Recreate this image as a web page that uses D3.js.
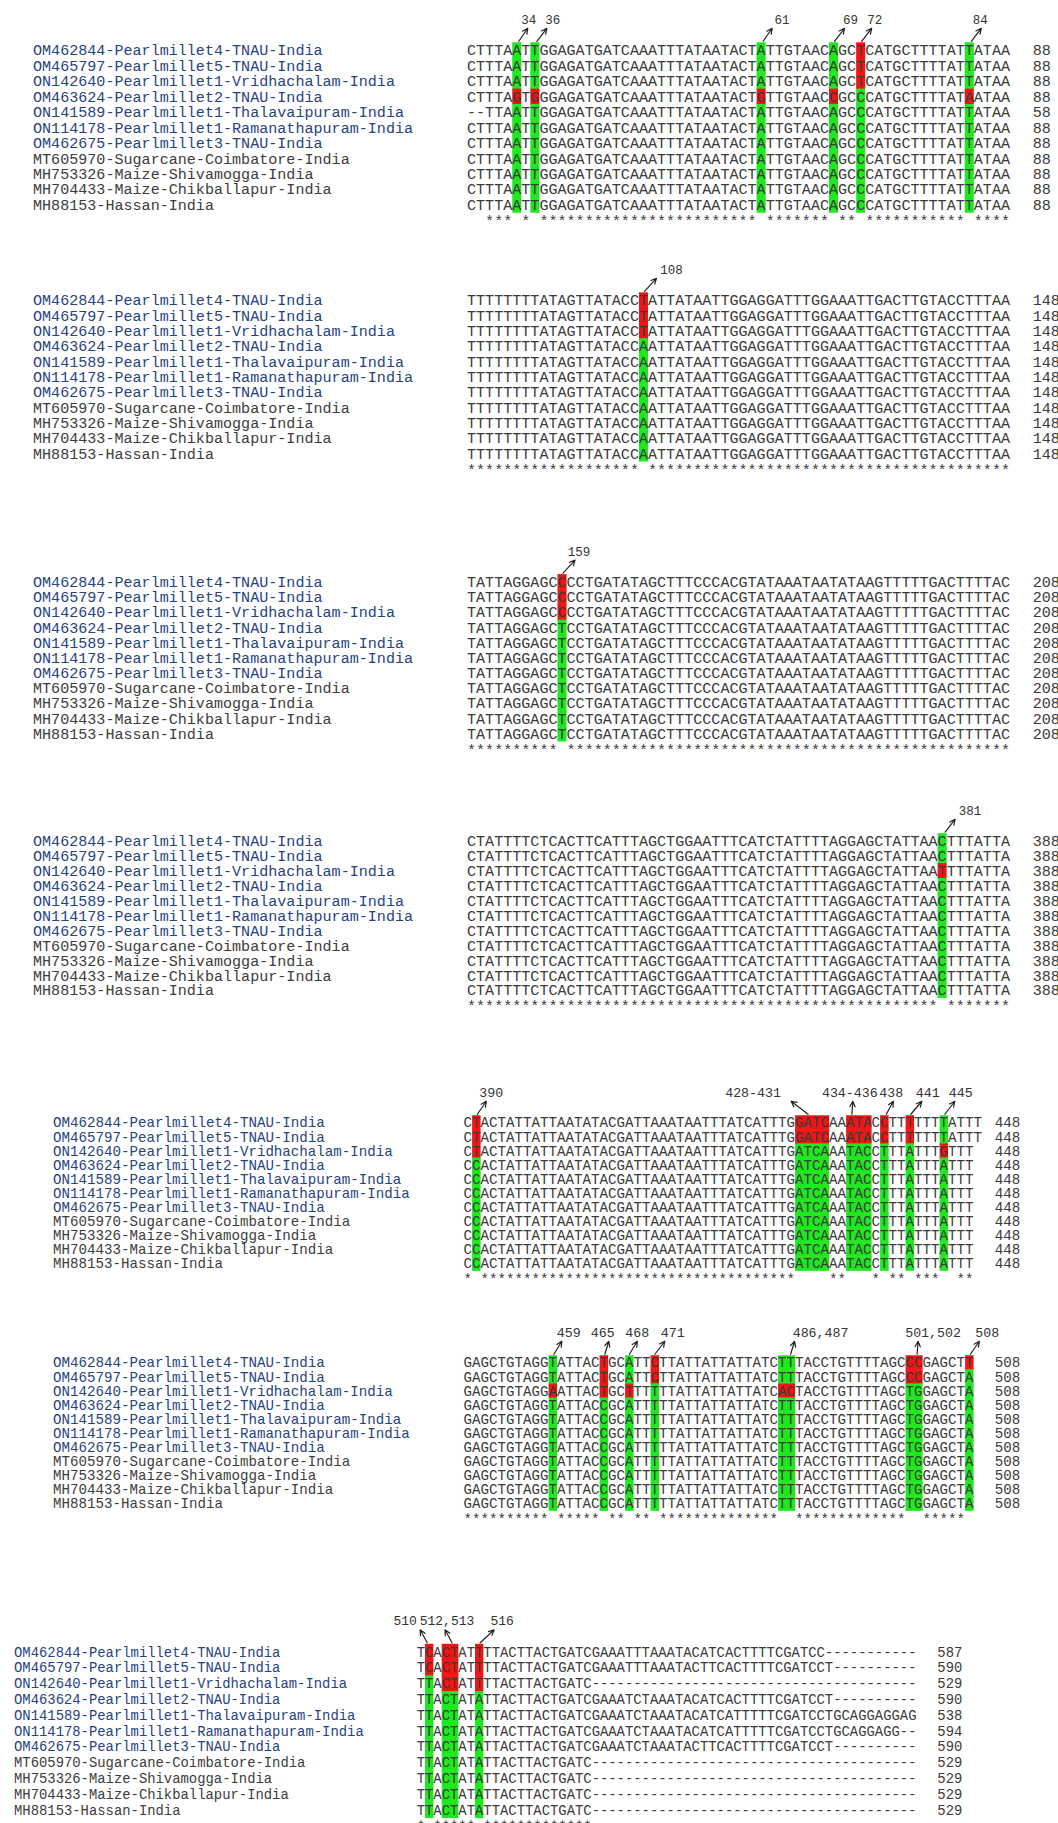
<!DOCTYPE html>
<html><head><meta charset="utf-8">
<script src="https://cdn.jsdelivr.net/npm/d3@7"></script>
<style>html,body{margin:0;padding:0;background:#fff}</style>
</head><body><svg id="c" width="1058" height="1823"></svg>
<script>
// ---------------- DATA ----------------
const names = [
  "OM462844-Pearlmillet4-TNAU-India",
  "OM465797-Pearlmillet5-TNAU-India",
  "ON142640-Pearlmillet1-Vridhachalam-India",
  "OM463624-Pearlmillet2-TNAU-India",
  "ON141589-Pearlmillet1-Thalavaipuram-India",
  "ON114178-Pearlmillet1-Ramanathapuram-India",
  "OM462675-Pearlmillet3-TNAU-India",
  "MT605970-Sugarcane-Coimbatore-India",
  "MH753326-Maize-Shivamogga-India",
  "MH704433-Maize-Chikballapur-India",
  "MH88153-Hassan-India"
];
const hostGroup = ["pearl","pearl","pearl","pearl","pearl","pearl","pearl","other","other","other","other"];

const blockStarts = [29, 89, 149, 329, 389, 449, 509];

const seqBlock1 = [
  "CTTTAATTGGAGATGATCAAATTTATAATACTATTGTAACAGCTCATGCTTTTATTATAA",
  "CTTTAATTGGAGATGATCAAATTTATAATACTATTGTAACAGCTCATGCTTTTATTATAA",
  "CTTTAATTGGAGATGATCAAATTTATAATACTATTGTAACAGCTCATGCTTTTATTATAA",
  "CTTTAGTGGGAGATGATCAAATTTATAATACTGTTGTAACCGCCCATGCTTTTATAATAA",
  "--TTAATTGGAGATGATCAAATTTATAATACTATTGTAACAGCCCATGCTTTTATTATAA",
  "CTTTAATTGGAGATGATCAAATTTATAATACTATTGTAACAGCCCATGCTTTTATTATAA",
  "CTTTAATTGGAGATGATCAAATTTATAATACTATTGTAACAGCCCATGCTTTTATTATAA",
  "CTTTAATTGGAGATGATCAAATTTATAATACTATTGTAACAGCCCATGCTTTTATTATAA",
  "CTTTAATTGGAGATGATCAAATTTATAATACTATTGTAACAGCCCATGCTTTTATTATAA",
  "CTTTAATTGGAGATGATCAAATTTATAATACTATTGTAACAGCCCATGCTTTTATTATAA",
  "CTTTAATTGGAGATGATCAAATTTATAATACTATTGTAACAGCCCATGCTTTTATTATAA"
];
const seqBlock2 = [
  "TTTTTTTTATAGTTATACCTATTATAATTGGAGGATTTGGAAATTGACTTGTACCTTTAA",
  "TTTTTTTTATAGTTATACCTATTATAATTGGAGGATTTGGAAATTGACTTGTACCTTTAA",
  "TTTTTTTTATAGTTATACCTATTATAATTGGAGGATTTGGAAATTGACTTGTACCTTTAA",
  "TTTTTTTTATAGTTATACCAATTATAATTGGAGGATTTGGAAATTGACTTGTACCTTTAA",
  "TTTTTTTTATAGTTATACCAATTATAATTGGAGGATTTGGAAATTGACTTGTACCTTTAA",
  "TTTTTTTTATAGTTATACCAATTATAATTGGAGGATTTGGAAATTGACTTGTACCTTTAA",
  "TTTTTTTTATAGTTATACCAATTATAATTGGAGGATTTGGAAATTGACTTGTACCTTTAA",
  "TTTTTTTTATAGTTATACCAATTATAATTGGAGGATTTGGAAATTGACTTGTACCTTTAA",
  "TTTTTTTTATAGTTATACCAATTATAATTGGAGGATTTGGAAATTGACTTGTACCTTTAA",
  "TTTTTTTTATAGTTATACCAATTATAATTGGAGGATTTGGAAATTGACTTGTACCTTTAA",
  "TTTTTTTTATAGTTATACCAATTATAATTGGAGGATTTGGAAATTGACTTGTACCTTTAA"
];
const seqBlock3 = [
  "TATTAGGAGCCCCTGATATAGCTTTCCCACGTATAAATAATATAAGTTTTTGACTTTTAC",
  "TATTAGGAGCCCCTGATATAGCTTTCCCACGTATAAATAATATAAGTTTTTGACTTTTAC",
  "TATTAGGAGCCCCTGATATAGCTTTCCCACGTATAAATAATATAAGTTTTTGACTTTTAC",
  "TATTAGGAGCTCCTGATATAGCTTTCCCACGTATAAATAATATAAGTTTTTGACTTTTAC",
  "TATTAGGAGCTCCTGATATAGCTTTCCCACGTATAAATAATATAAGTTTTTGACTTTTAC",
  "TATTAGGAGCTCCTGATATAGCTTTCCCACGTATAAATAATATAAGTTTTTGACTTTTAC",
  "TATTAGGAGCTCCTGATATAGCTTTCCCACGTATAAATAATATAAGTTTTTGACTTTTAC",
  "TATTAGGAGCTCCTGATATAGCTTTCCCACGTATAAATAATATAAGTTTTTGACTTTTAC",
  "TATTAGGAGCTCCTGATATAGCTTTCCCACGTATAAATAATATAAGTTTTTGACTTTTAC",
  "TATTAGGAGCTCCTGATATAGCTTTCCCACGTATAAATAATATAAGTTTTTGACTTTTAC",
  "TATTAGGAGCTCCTGATATAGCTTTCCCACGTATAAATAATATAAGTTTTTGACTTTTAC"
];
const seqBlock4 = [
  "CTATTTTCTCACTTCATTTAGCTGGAATTTCATCTATTTTAGGAGCTATTAACTTTATTA",
  "CTATTTTCTCACTTCATTTAGCTGGAATTTCATCTATTTTAGGAGCTATTAACTTTATTA",
  "CTATTTTCTCACTTCATTTAGCTGGAATTTCATCTATTTTAGGAGCTATTAATTTTATTA",
  "CTATTTTCTCACTTCATTTAGCTGGAATTTCATCTATTTTAGGAGCTATTAACTTTATTA",
  "CTATTTTCTCACTTCATTTAGCTGGAATTTCATCTATTTTAGGAGCTATTAACTTTATTA",
  "CTATTTTCTCACTTCATTTAGCTGGAATTTCATCTATTTTAGGAGCTATTAACTTTATTA",
  "CTATTTTCTCACTTCATTTAGCTGGAATTTCATCTATTTTAGGAGCTATTAACTTTATTA",
  "CTATTTTCTCACTTCATTTAGCTGGAATTTCATCTATTTTAGGAGCTATTAACTTTATTA",
  "CTATTTTCTCACTTCATTTAGCTGGAATTTCATCTATTTTAGGAGCTATTAACTTTATTA",
  "CTATTTTCTCACTTCATTTAGCTGGAATTTCATCTATTTTAGGAGCTATTAACTTTATTA",
  "CTATTTTCTCACTTCATTTAGCTGGAATTTCATCTATTTTAGGAGCTATTAACTTTATTA"
];
const seqBlock5 = [
  "CTACTATTATTAATATACGATTAAATAATTTATCATTTGGATCAAATACCTTTTTTTATTT",
  "CTACTATTATTAATATACGATTAAATAATTTATCATTTGGATCAAATACCTTTTTTTATTT",
  "CTACTATTATTAATATACGATTAAATAATTTATCATTTGATCAAATACCTTTATTTGTTT",
  "CCACTATTATTAATATACGATTAAATAATTTATCATTTGATCAAATACCTTTATTTATTT",
  "CCACTATTATTAATATACGATTAAATAATTTATCATTTGATCAAATACCTTTATTTATTT",
  "CCACTATTATTAATATACGATTAAATAATTTATCATTTGATCAAATACCTTTATTTATTT",
  "CCACTATTATTAATATACGATTAAATAATTTATCATTTGATCAAATACCTTTATTTATTT",
  "CCACTATTATTAATATACGATTAAATAATTTATCATTTGATCAAATACCTTTATTTATTT",
  "CCACTATTATTAATATACGATTAAATAATTTATCATTTGATCAAATACCTTTATTTATTT",
  "CCACTATTATTAATATACGATTAAATAATTTATCATTTGATCAAATACCTTTATTTATTT",
  "CCACTATTATTAATATACGATTAAATAATTTATCATTTGATCAAATACCTTTATTTATTT"
];
const seqBlock6 = [
  "GAGCTGTAGGTATTACTGCATTCTTATTATTATTATCTTTACCTGTTTTAGCCCGAGCTT",
  "GAGCTGTAGGTATTACTGCATTCTTATTATTATTATCTTTACCTGTTTTAGCCCGAGCTA",
  "GAGCTGTAGGAATTACTGCTTTTTTATTATTATTATCACTACCTGTTTTAGCTGGAGCTA",
  "GAGCTGTAGGTATTACCGCATTTTTATTATTATTATCTTTACCTGTTTTAGCTGGAGCTA",
  "GAGCTGTAGGTATTACCGCATTTTTATTATTATTATCTTTACCTGTTTTAGCTGGAGCTA",
  "GAGCTGTAGGTATTACCGCATTTTTATTATTATTATCTTTACCTGTTTTAGCTGGAGCTA",
  "GAGCTGTAGGTATTACCGCATTTTTATTATTATTATCTTTACCTGTTTTAGCTGGAGCTA",
  "GAGCTGTAGGTATTACCGCATTTTTATTATTATTATCTTTACCTGTTTTAGCTGGAGCTA",
  "GAGCTGTAGGTATTACCGCATTTTTATTATTATTATCTTTACCTGTTTTAGCTGGAGCTA",
  "GAGCTGTAGGTATTACCGCATTTTTATTATTATTATCTTTACCTGTTTTAGCTGGAGCTA",
  "GAGCTGTAGGTATTACCGCATTTTTATTATTATTATCTTTACCTGTTTTAGCTGGAGCTA"
];
const seqBlock7 = [
  "TCACTATTTTACTTACTGATCGAAATTTAAATACATCACTTTTCGATCC-----------",
  "TCACTATTTTACTTACTGATCGAAATTTAAATACTTCACTTTTCGATCCT----------",
  "TTACTATTTTACTTACTGATC---------------------------------------",
  "TTACTATATTACTTACTGATCGAAATCTAAATACATCACTTTTCGATCCT----------",
  "TTACTATATTACTTACTGATCGAAATCTAAATACATCATTTTTCGATCCTGCAGGAGGAG",
  "TTACTATATTACTTACTGATCGAAATCTAAATACATCATTTTTCGATCCTGCAGGAGG--",
  "TTACTATATTACTTACTGATCGAAATCTAAATACTTCACTTTTCGATCCT----------",
  "TTACTATATTACTTACTGATC---------------------------------------",
  "TTACTATATTACTTACTGATC---------------------------------------",
  "TTACTATATTACTTACTGATC---------------------------------------",
  "TTACTATATTACTTACTGATC---------------------------------------"
];
const seqBlocks = [seqBlock1, seqBlock2, seqBlock3, seqBlock4, seqBlock5, seqBlock6, seqBlock7];

const endNumbers = [
  [88, 88, 88, 88, 58, 88, 88, 88, 88, 88, 88],
  [148, 148, 148, 148, 148, 148, 148, 148, 148, 148, 148],
  [208, 208, 208, 208, 208, 208, 208, 208, 208, 208, 208],
  [388, 388, 388, 388, 388, 388, 388, 388, 388, 388, 388],
  [448, 448, 448, 448, 448, 448, 448, 448, 448, 448, 448],
  [508, 508, 508, 508, 508, 508, 508, 508, 508, 508, 508],
  [587, 590, 529, 590, 538, 594, 590, 529, 529, 529, 529]
];

// variable sites: alignment positions, label, rows that carry the variant (red)
const sites = [
  {block: 0, label: "34", from: 34, to: 34, variantRows: [3]},
  {block: 0, label: "36", from: 36, to: 36, variantRows: [3]},
  {block: 0, label: "61", from: 61, to: 61, variantRows: [3]},
  {block: 0, label: "69", from: 69, to: 69, variantRows: [3]},
  {block: 0, label: "72", from: 72, to: 72, variantRows: [0, 1, 2]},
  {block: 0, label: "84", from: 84, to: 84, variantRows: [3]},
  {block: 1, label: "108", from: 108, to: 108, variantRows: [0, 1, 2]},
  {block: 2, label: "159", from: 159, to: 159, variantRows: [0, 1, 2]},
  {block: 3, label: "381", from: 381, to: 381, variantRows: [2]},
  {block: 4, label: "390", from: 390, to: 390, variantRows: [0, 1, 2]},
  {block: 4, label: "428-431", from: 428, to: 431, variantRows: [0, 1]},
  {block: 4, label: "434-436", from: 434, to: 436, variantRows: [0, 1]},
  {block: 4, label: "438", from: 438, to: 438, variantRows: [0, 1]},
  {block: 4, label: "441", from: 441, to: 441, variantRows: [0, 1]},
  {block: 4, label: "445", from: 445, to: 445, variantRows: [2]},
  {block: 5, label: "459", from: 459, to: 459, variantRows: [2]},
  {block: 5, label: "465", from: 465, to: 465, variantRows: [0, 1, 2]},
  {block: 5, label: "468", from: 468, to: 468, variantRows: [2]},
  {block: 5, label: "471", from: 471, to: 471, variantRows: [0, 1]},
  {block: 5, label: "486,487", from: 486, to: 487, variantRows: [2]},
  {block: 5, label: "501,502", from: 501, to: 502, variantRows: [0, 1]},
  {block: 5, label: "508", from: 508, to: 508, variantRows: [0]},
  {block: 6, label: "510", from: 510, to: 510, variantRows: [0, 1]},
  {block: 6, label: "512,513", from: 512, to: 513, variantRows: [0, 1, 2]},
  {block: 6, label: "516", from: 516, to: 516, variantRows: [0, 1, 2]}
];

// ---------------- LAYOUT / STYLE ----------------
const W = 1058, H = 1823, COLS = 60;
const blockLayout = [
  {y0: 50,     rowH: 15.45, nameX: 33, seqX: 467,   charW: 9.05, labelFs: 12.5},
  {y0: 300,    rowH: 15.33, nameX: 33, seqX: 467,   charW: 9.05, labelFs: 12.5},
  {y0: 581.7,  rowH: 15.17, nameX: 33, seqX: 467,   charW: 9.05, labelFs: 12.5},
  {y0: 840.7,  rowH: 14.93, nameX: 33, seqX: 467,   charW: 9.05, labelFs: 12.5},
  {y0: 1122.3, rowH: 14.1,  nameX: 53, seqX: 463.6, charW: 8.5,  labelFs: 13.3},
  {y0: 1362.3, rowH: 14.1,  nameX: 53, seqX: 463.6, charW: 8.5,  labelFs: 13.3},
  {y0: 1651.7, rowH: 15.8,  nameX: 14, seqX: 416.7, charW: 8.33, labelFs: 13}
];
// arrow offsets: bx = arrow foot shift, dx = arrow head shift, lx = label shift
const arrowStyle = {
  "34": {bx: 2, dx: 11, lx: 1}, "36": {bx: 2, dx: 12, lx: 6}, "61": {bx: 2, dx: 11, lx: 10},
  "69": {bx: 1, dx: 11, lx: 6}, "72": {bx: 1, dx: 11, lx: 3}, "84": {bx: 2, dx: 12, lx: -1},
  "108": {bx: 1, dx: 13, lx: 15}, "159": {bx: 1, dx: 13, lx: 4}, "381": {bx: 3, dx: 13, lx: 15},
  "390": {bx: 1, dx: 10, lx: 5}, "428-431": {bx: -4, dx: -21, lx: -38}, "434-436": {bx: -7, dx: -6, lx: -3},
  "438": {bx: 2, dx: 9, lx: -2}, "441": {bx: 1, dx: 12, lx: 6}, "445": {bx: 1, dx: 11, lx: 6},
  "459": {bx: 1, dx: 9, lx: 7}, "465": {bx: 1, dx: 5, lx: -6}, "468": {bx: 0, dx: 8, lx: 0},
  "471": {bx: 0, dx: 10, lx: 8}, "486,487": {bx: 4, dx: 8, lx: 26}, "501,502": {bx: 3, dx: 4, lx: 15},
  "508": {bx: 1, dx: 10, lx: 8}, "510": {bx: -2, dx: -9, lx: -15}, "512,513": {bx: 2, dx: -5, lx: 2},
  "516": {bx: 1, dx: 15, lx: 8}
};
const COLOR_VAR = "#f01515", COLOR_REF = "#1fe81f";
const COLOR_TEXT = "#3a3a3a", COLOR_BLUE = "#27437f", COLOR_GRAY = "#3c3c3c";
const FONT = "'Liberation Mono', 'Courier New', monospace";

// ---------------- DRAW ----------------
const svg = d3.select("#c");
svg.append("rect").attr("width", W).attr("height", H).attr("fill", "#fff");

seqBlocks.forEach((rows, b) => {
  const L = blockLayout[b];
  const start = blockStarts[b];
  const fs = L.charW / 0.6;
  const g = svg.append("g");
  const x = d3.scaleLinear().domain([start, start + COLS]).range([L.seqX, L.seqX + COLS * L.charW]);
  const y = d3.scaleBand().domain(d3.range(rows.length + 1))
    .range([L.y0 - L.rowH / 2, L.y0 - L.rowH / 2 + (rows.length + 1) * L.rowH]).padding(0);
  const yc = i => y(i) + y.bandwidth() / 2;

  // highlight cells
  const bSites = sites.filter(s => s.block === b);
  bSites.forEach(s => {
    g.selectAll(null).data(rows.map((r, i) => i)).enter().append("rect")
      .attr("x", x(s.from)).attr("width", x(s.to + 1) - x(s.from))
      .attr("y", i => y(i)).attr("height", y.bandwidth() + 0.5)
      .attr("fill", i => s.variantRows.includes(i) ? COLOR_VAR : COLOR_REF);
  });

  // names
  g.selectAll(null).data(names).enter().append("text")
    .attr("x", L.nameX).attr("y", (d, i) => yc(i)).attr("dy", "0.36em")
    .attr("font-family", FONT).attr("font-size", fs)
    .attr("fill", (d, i) => hostGroup[i] === "pearl" ? COLOR_BLUE : COLOR_GRAY)
    .text(d => d);

  // sequence characters
  rows.forEach((seq, i) => {
    g.selectAll(null).data(seq.split("")).enter().append("text")
      .attr("x", (c, j) => x(start + j) + L.charW / 2).attr("y", yc(i)).attr("dy", "0.36em")
      .attr("text-anchor", "middle").attr("font-family", FONT).attr("font-size", fs)
      .attr("fill", COLOR_TEXT).text(c => c);
  });

  // conservation line
  const cons = d3.range(COLS).map(j => {
    const c = rows[0][j];
    return (c !== "-" && rows.every(r => r[j] === c)) ? "*" : " ";
  });
  g.selectAll(null).data(cons).enter().filter(c => c === "*").append("text")
    .attr("x", (c, j) => 0).attr("y", yc(rows.length)).attr("dy", "0.36em");
  g.selectAll(".star").data(cons.map((c, j) => ({c, j})).filter(d => d.c === "*")).enter().append("text")
    .attr("x", d => x(start + d.j) + L.charW / 2).attr("y", yc(rows.length) + 1).attr("dy", "0.36em")
    .attr("text-anchor", "middle").attr("font-family", FONT).attr("font-size", fs)
    .attr("fill", COLOR_TEXT).text("*");

  // end numbers
  g.selectAll(null).data(endNumbers[b]).enter().append("text")
    .attr("x", x(start + COLS) + 2.5 * L.charW).attr("y", (d, i) => yc(i)).attr("dy", "0.36em")
    .attr("font-family", FONT).attr("font-size", fs).attr("fill", COLOR_TEXT)
    .text(d => d);

  // arrows + labels
  bSites.forEach(s => {
    const st = arrowStyle[s.label];
    const bx0 = (x(s.from) + x(s.to + 1)) / 2 + st.bx;
    const by0 = y(0) - 1;
    const tx = (x(s.from) + x(s.to + 1)) / 2 + st.dx;
    const ty = by0 - 13;
    const ang = Math.atan2(ty - by0, tx - bx0);
    const hl = 6, ha = 0.45;
    const h1 = [tx - hl * Math.cos(ang - ha), ty - hl * Math.sin(ang - ha)];
    const h2 = [tx - hl * Math.cos(ang + ha), ty - hl * Math.sin(ang + ha)];
    g.append("path")
      .attr("d", `M${bx0},${by0}L${tx},${ty}M${h1[0]},${h1[1]}L${tx},${ty}L${h2[0]},${h2[1]}`)
      .attr("fill", "none").attr("stroke", "#222").attr("stroke-width", 1.2)
      .attr("stroke-linecap", "round").attr("stroke-linejoin", "round");
    g.append("text")
      .attr("x", tx + st.lx).attr("y", ty - 9).attr("dy", "0.36em")
      .attr("text-anchor", "middle").attr("font-family", FONT).attr("font-size", L.labelFs)
      .attr("fill", "#333").text(s.label);
  });
});
</script>
</body></html>
